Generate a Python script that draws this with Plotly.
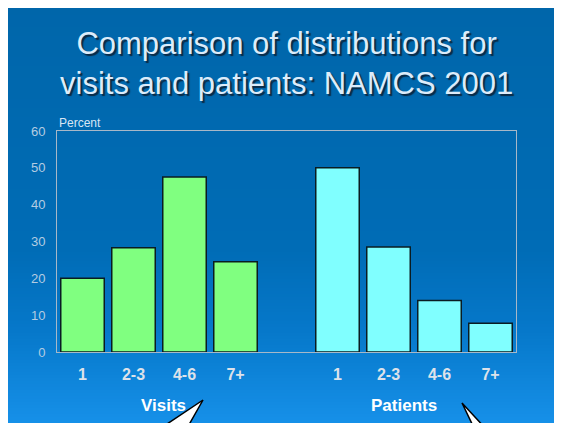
import plotly.graph_objects as go

# ---- data ----
categories = ["1", "2-3", "4-6", "7+"]
visits = [20, 28.3, 47.5, 24.5]
patients = [50, 28.5, 14, 7.8]
group_labels = ["Visits", "Patients"]
y_ticks = [0, 10, 20, 30, 40, 50, 60]
title_text = "Comparison of distributions for<br>visits and patients: NAMCS 2001"

OFF = 8  # page body margin
W, H = 562 - OFF, 423 - OFF
L, R, T, B = 57, 516, 131, 352  # plot area in page pixels

def px(x):
    return (x - L) / (R - L)

def py(y):
    return (B - y) / (B - T)

n = len(categories)
x_vis = list(range(n))
x_pat = [i + n + 1 for i in range(n)]

fig = go.Figure()
fig.add_trace(go.Bar(x=x_vis, y=visits, marker=dict(color="#80FF80", line=dict(color="#0a1c22", width=1.5)),
                     name=group_labels[0], showlegend=False))
fig.add_trace(go.Bar(x=x_pat, y=patients, marker=dict(color="#80FFFF", line=dict(color="#0a1c22", width=1.5)),
                     name=group_labels[1], showlegend=False))

# ---- background gradient (slide) ----
stops = [(6, (0, 102, 170)), (250, (0, 108, 182)), (330, (6, 120, 202)), (423, (22, 144, 232))]
def col_at(y):
    for (y0, c0), (y1, c1) in zip(stops[:-1], stops[1:]):
        if y0 <= y <= y1:
            t = (y - y0) / (y1 - y0)
            return "rgb(%d,%d,%d)" % tuple(round(a + (b - a) * t) for a, b in zip(c0, c1))
    return "rgb(%d,%d,%d)" % stops[-1][1]

shapes = []
step = 3
y = 6
while y < 423:
    shapes.append(dict(type="rect", xref="paper", yref="paper", layer="below",
                       x0=px(6), x1=px(566), y0=py(min(y + step + 0.6, 426)), y1=py(y),
                       fillcolor=col_at(y + step / 2), line=dict(width=0)))
    y += step

# callout tails
def tri(pts):
    p = "M " + " L ".join("%f,%f" % (px(a), py(b)) for a, b in pts) + " Z"
    return dict(type="path", xref="paper", yref="paper", path=p, fillcolor="white",
                line=dict(color="black", width=1.5), layer="above")
shapes.append(tri([(203, 400), (158, 430), (186, 430)]))
shapes.append(tri([(462, 403), (475, 430), (487, 430)]))

annotations = [
    dict(text=title_text, xref="paper", yref="paper", x=px(286), y=py(64), xanchor="center", yanchor="middle",
         showarrow=False, font=dict(family="Liberation Sans, Arial", size=31, color="#dcecfa",
                                    shadow="2px 2px 1px #0a2a45")),
    dict(text="Percent", xref="paper", yref="paper", x=px(57), y=py(123), xanchor="left", yanchor="middle",
         showarrow=False, font=dict(family="Liberation Sans, Arial", size=12, color="#d8e6f4")),
    dict(text="<b>%s</b>" % group_labels[0], xref="paper", yref="paper", x=px(163), y=py(405),
         xanchor="center", yanchor="middle", showarrow=False,
         font=dict(family="Liberation Sans, Arial", size=17, color="white")),
    dict(text="<b>%s</b>" % group_labels[1], xref="paper", yref="paper", x=px(404), y=py(405),
         xanchor="center", yanchor="middle", showarrow=False,
         font=dict(family="Liberation Sans, Arial", size=17, color="white")),
]

fig.update_layout(
    width=W, height=H,
    margin=dict(l=L - OFF, r=562 - R, t=T - OFF, b=423 - B, pad=0),
    paper_bgcolor="white", plot_bgcolor="rgba(0,0,0,0)",
    barmode="overlay", bargap=0.147,
    shapes=shapes, annotations=annotations,
    xaxis=dict(range=[-0.5, 2 * n + 0.5], tickvals=x_vis + x_pat, ticktext=["<b>%s</b>" % c for c in categories * 2],
               showgrid=False, zeroline=False, showline=True, linecolor="#a8b8c8", linewidth=1, mirror=True,
               ticks="outside", ticklen=8, tickcolor="rgba(0,0,0,0)",
               tickfont=dict(family="Liberation Sans, Arial", size=16, color="#dde2ea")),
    yaxis=dict(range=[0, 60], tickvals=y_ticks, showgrid=False, zeroline=False, showline=True,
               linecolor="#a8b8c8", linewidth=1, mirror=True,
               ticks="outside", ticklen=8, tickcolor="rgba(0,0,0,0)",
               tickfont=dict(family="Liberation Sans, Arial", size=13, color="#b4cce2")),
)

fig.write_html("out.html")
